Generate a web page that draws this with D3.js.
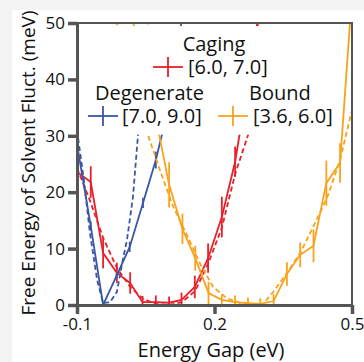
<!DOCTYPE html>
<html>
<head>
<meta charset="utf-8">
<script src="https://cdn.jsdelivr.net/npm/d3@7"></script>
<style>
  body { margin: 0; background: #f3f3f3; }
  svg { display: block; }
  text { font-family: "Open Sans", "Noto Sans", sans-serif; fill: #111; }
</style>
</head>
<body>
<div id="chart"></div>
<script>
// energy gap grid (eV) and free energies (meV)
const cagingGap = [-0.100, -0.070, -0.043, -0.013, 0.016, 0.043, 0.072, 0.101, 0.128, 0.157, 0.186, 0.216, 0.245, 0.274, 0.303];
const cagingF   = [23.6, 21.8, 9.2, 5.7, 3.9, 0.5, 0.5, 0.4, 0.9, 3.2, 8.3, 15.6, 25.4, 39.9, 55.0];
const cagingErr = [4.4, 2.8, 2.7, 1.8, 1.9, 1.1, 1.2, 1.1, 1.3, 2.0, 2.6, 3.6, 2.7, 3.0, 3.0];
const cagingFitGap = [-0.100, -0.072, -0.043, -0.013, 0.016, 0.044, 0.072, 0.101, 0.129, 0.158, 0.186, 0.216, 0.245, 0.273, 0.295];
const cagingFit    = [24.3, 18.6, 11.9, 6.6, 3.2, 1.1, 0.2, 0.0, 0.5, 2.5, 7.3, 13.7, 23.2, 30.1, 50.2];

const degenGap = [-0.100, -0.070, -0.043, -0.014, 0.015, 0.044, 0.072, 0.101, 0.130];
const degenF   = [28.5, 14.0, 0.0, 5.1, 10.3, 18.1, 25.7, 35.5, 51.4];
const degenErr = [2.5, 0.8, 0.3, 0.5, 0.9, 0.9, 1.5, 1.5, 1.5];
const degenFitGap = [-0.100, -0.085, -0.072, -0.056, -0.043, -0.028, -0.013, 0.000, 0.009, 0.022, 0.033, 0.044, 0.055];
const degenFit    = [31.0, 22.2, 12.9, 4.4, 0.35, 0.5, 2.3, 8.0, 11.5, 19.1, 30.0, 39.9, 50.5];

const boundGap = [0.012, 0.042, 0.071, 0.101, 0.130, 0.158, 0.187, 0.216, 0.245, 0.273, 0.300, 0.329, 0.358, 0.387, 0.416, 0.444, 0.474, 0.502];
const boundF   = [53.2, 44.3, 33.6, 21.3, 13.5, 8.3, 2.1, 0.9, 0.5, 0.35, 0.2, 0.7, 5.5, 8.9, 10.5, 21.6, 25.2, 57.4];
const boundErr = [3.0, 3.0, 3.0, 4.0, 2.7, 2.2, 2.0, 1.0, 1.2, 1.0, 1.0, 1.2, 2.1, 2.2, 2.9, 4.0, 3.5, 3.5];
const boundFitGap = [-0.024, -0.006, 0.024, 0.055, 0.081, 0.110, 0.140, 0.168, 0.197, 0.227, 0.256, 0.284, 0.306, 0.328, 0.358, 0.387, 0.415, 0.446, 0.474, 0.500];
const boundFit    = [53.2, 47.9, 38.1, 30.1, 23.9, 17.4, 12.4, 7.4, 3.2, 1.2, 0.35, 0.0, 0.2, 2.3, 5.7, 9.2, 13.8, 19.1, 25.7, 34.6];

const xTicks = [-0.1, 0.2, 0.5];
const yTicks = [0, 10, 20, 30, 40, 50];

const legendNames  = ["Caging", "Degenerate", "Bound"];
const legendRanges = ["[6.0, 7.0]", "[7.0, 9.0]", "[3.6, 6.0]"];

const W = 364, H = 362;
const margin = {left: 77, right: 12, top: 23, bottom: 57};
const colors = ["#e8202a", "#3a56a6", "#f8a31b"];

const svg = d3.select("#chart").append("svg")
  .attr("width", W)
  .attr("height", H);

// white panel over light grey page
svg.append("rect")
  .attr("x", 12).attr("y", 10)
  .attr("width", W - 12).attr("height", H - 10)
  .attr("fill", "#fff");

const x = d3.scaleLinear().domain([-0.1, 0.5]).range([margin.left, W - margin.right]);
const y = d3.scaleLinear().domain([0, 50]).range([H - margin.bottom, margin.top]);

svg.append("clipPath").attr("id", "plotclip")
  .append("rect")
  .attr("x", x(-0.1)).attr("y", y(50))
  .attr("width", x(0.5) - x(-0.1)).attr("height", y(0) - y(50));

const plot = svg.append("g").attr("clip-path", "url(#plotclip)");

const series = [
  {gap: cagingGap, f: cagingF, err: cagingErr, fitGap: cagingFitGap, fit: cagingFit, color: colors[0]},
  {gap: degenGap, f: degenF, err: degenErr, fitGap: degenFitGap, fit: degenFit, color: colors[1]},
  {gap: boundGap, f: boundF, err: boundErr, fitGap: boundFitGap, fit: boundFit, color: colors[2]}
];

const line = d3.line()
  .x(function(d) { return x(d[0]); })
  .y(function(d) { return y(d[1]); });

series.forEach(function(s) {
  const pts = s.gap.map(function(g, i) { return [g, s.f[i]]; });
  const fitPts = s.fitGap.map(function(g, i) { return [g, s.fit[i]]; });

  plot.append("path")
    .attr("d", line(fitPts))
    .attr("fill", "none")
    .attr("stroke", s.color)
    .attr("stroke-width", 1.8)
    .attr("stroke-dasharray", "5,3");

  plot.append("path")
    .attr("d", line(pts))
    .attr("fill", "none")
    .attr("stroke", s.color)
    .attr("stroke-width", 1.8);

  plot.selectAll(null)
    .data(pts)
    .enter().append("line")
    .attr("x1", function(d) { return x(d[0]); })
    .attr("x2", function(d) { return x(d[0]); })
    .attr("y1", function(d, i) { return y(d[1] - s.err[i]); })
    .attr("y2", function(d, i) { return y(d[1] + s.err[i]); })
    .attr("stroke", s.color)
    .attr("stroke-width", 1.8);
});

// legend box hides the curves above 30 meV
const lg = svg.append("g");
lg.append("rect")
  .attr("x", x(-0.1) + 1).attr("y", y(50) + 3)
  .attr("width", 257).attr("height", y(30.2) - y(50) - 3)
  .attr("fill", "#fff");

const legendPos = [
  {cx: 168, cy: 67, nameX: 214, nameAnchor: "middle", nameY: 51, rangeX: 188},
  {cx: 103, cy: 116, nameX: 95, nameAnchor: "start", nameY: 100, rangeX: 122},
  {cx: 233, cy: 116, nameX: 249, nameAnchor: "start", nameY: 100, rangeX: 253}
];

legendPos.forEach(function(p, i) {
  lg.append("line")
    .attr("x1", p.cx - 15).attr("x2", p.cx + 15)
    .attr("y1", p.cy).attr("y2", p.cy)
    .attr("stroke", colors[i]).attr("stroke-width", 1.8);
  lg.append("line")
    .attr("x1", p.cx).attr("x2", p.cx)
    .attr("y1", p.cy - 10).attr("y2", p.cy + 10)
    .attr("stroke", colors[i]).attr("stroke-width", 1.8);
  lg.append("text")
    .attr("x", p.nameX).attr("y", p.nameY)
    .attr("text-anchor", p.nameAnchor)
    .style("font-size", "20px")
    .text(legendNames[i]);
  lg.append("text")
    .attr("x", p.rangeX).attr("y", p.cy + 7)
    .style("font-size", "20px")
    .text(legendRanges[i]);
});

// frame
const axisColor = "#555";
svg.append("path")
  .attr("d", "M" + x(-0.1) + "," + y(50) + "H" + x(0.5) + "V" + y(0))
  .attr("fill", "none")
  .attr("stroke", axisColor)
  .attr("stroke-width", 2);

const xAxis = svg.append("g")
  .attr("transform", "translate(0," + y(0) + ")")
  .call(d3.axisBottom(x).tickValues(xTicks).tickSizeInner(9).tickSizeOuter(0).tickPadding(4)
    .tickFormat(function(d) { return d3.format(".1f")(d).replace("−", "-"); }));

const yAxis = svg.append("g")
  .attr("transform", "translate(" + x(-0.1) + ",0)")
  .call(d3.axisLeft(y).tickValues(yTicks).tickSizeInner(9).tickSizeOuter(0).tickPadding(3));

[xAxis, yAxis].forEach(function(a) {
  a.select(".domain").attr("stroke", axisColor).attr("stroke-width", 3);
  a.selectAll(".tick line").attr("stroke", axisColor).attr("stroke-width", 3.5);
  a.selectAll(".tick text")
    .style("font-family", "'Open Sans', 'Noto Sans', sans-serif")
    .style("font-size", "17px")
    .attr("fill", "#111");
});

svg.append("text")
  .attr("x", 211).attr("y", 357)
  .attr("text-anchor", "middle")
  .style("font-size", "20px")
  .text("Energy Gap (eV)");

svg.append("text")
  .attr("transform", "translate(35," + 163 + ") rotate(-90)")
  .attr("text-anchor", "middle")
  .style("font-size", "19px")
  .text("Free Energy of Solvent Fluct. (meV)");
</script>
</body>
</html>
